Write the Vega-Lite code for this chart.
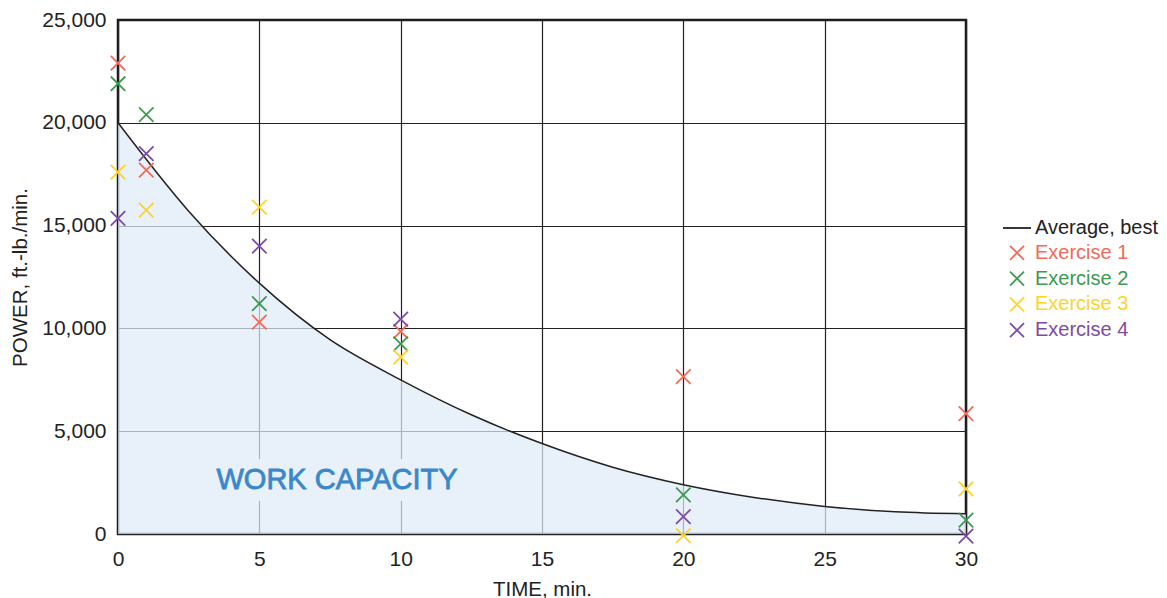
{
  "$schema": "https://vega.github.io/schema/vega-lite/v6.json",
  "width": 848,
  "height": 514,
  "autosize": {"type": "none"},
  "padding": {"left": 118, "top": 20, "right": 201, "bottom": 64},
  "background": "white",
  "datasets": {
    "curve": [
      {"t": 0, "p": 20000}, {"t": 2.5, "p": 15700}, {"t": 5, "p": 12200},
      {"t": 7.5, "p": 9450}, {"t": 10, "p": 7500}, {"t": 12.5, "p": 5800},
      {"t": 15, "p": 4400}, {"t": 17.5, "p": 3250}, {"t": 20, "p": 2400},
      {"t": 22.5, "p": 1780}, {"t": 25, "p": 1340}, {"t": 27.5, "p": 1080},
      {"t": 30, "p": 980}
    ],
    "points": [
      {"series": "Exercise 1", "t": 0, "p": 22900}, {"series": "Exercise 1", "t": 1, "p": 17700},
      {"series": "Exercise 1", "t": 5, "p": 10300}, {"series": "Exercise 1", "t": 10, "p": 9850},
      {"series": "Exercise 1", "t": 20, "p": 7650}, {"series": "Exercise 1", "t": 30, "p": 5850},
      {"series": "Exercise 2", "t": 0, "p": 21900}, {"series": "Exercise 2", "t": 1, "p": 20400},
      {"series": "Exercise 2", "t": 5, "p": 11200}, {"series": "Exercise 2", "t": 10, "p": 9250},
      {"series": "Exercise 2", "t": 20, "p": 1900}, {"series": "Exercise 2", "t": 30, "p": 680},
      {"series": "Exercise 3", "t": 0, "p": 17600}, {"series": "Exercise 3", "t": 1, "p": 15750},
      {"series": "Exercise 3", "t": 5, "p": 15900}, {"series": "Exercise 3", "t": 10, "p": 8600},
      {"series": "Exercise 3", "t": 20, "p": -80}, {"series": "Exercise 3", "t": 30, "p": 2200},
      {"series": "Exercise 4", "t": 0, "p": 15350}, {"series": "Exercise 4", "t": 1, "p": 18500},
      {"series": "Exercise 4", "t": 5, "p": 14000}, {"series": "Exercise 4", "t": 10, "p": 10450},
      {"series": "Exercise 4", "t": 20, "p": 850}, {"series": "Exercise 4", "t": 30, "p": -100}
    ],
    "label": [
      {"t": 7.75, "p": 2630, "t1": 3.3, "t2": 12.2, "p1": 1620, "p2": 3640, "text": "WORK CAPACITY"}
    ]
  },
  "config": {
    "view": {"stroke": "#1a1a1a", "strokeWidth": 2.5},
    "font": "Liberation Sans",
    "axis": {
      "domain": false, "ticks": false, "grid": true,
      "gridColor": "#222222", "gridWidth": 1.2, "gridOpacity": 1,
      "labelFont": "Liberation Sans", "labelFontSize": 21, "labelColor": "#222222",
      "titleFont": "Liberation Sans", "titleFontSize": 20.5, "titleFontWeight": "normal", "titleColor": "#222222"
    },
    "axisX": {"labelPadding": 14, "titlePadding": 10, "labelFlush": false},
    "axisY": {"labelPadding": 12, "titlePadding": 11}
  },
  "layer": [
    {
      "data": {"name": "curve"},
      "mark": {"type": "area", "interpolate": "monotone", "color": "#dfeaf7", "opacity": 0.72},
      "encoding": {
        "x": {"field": "t", "type": "quantitative", "title": "TIME, min.", "scale": {"domain": [0, 30], "nice": false},
              "axis": {"values": [0, 5, 10, 15, 20, 25, 30], "format": "d"}},
        "y": {"field": "p", "type": "quantitative", "title": "POWER, ft.-lb./min.", "scale": {"domain": [0, 25000], "nice": false},
              "axis": {"values": [0, 5000, 10000, 15000, 20000, 25000], "format": ",d"}}
      }
    },
    {
      "data": {"name": "label"},
      "mark": {"type": "rect", "color": "#e8f0f9"},
      "encoding": {
        "x": {"field": "t1", "type": "quantitative", "title": "TIME, min.",
              "axis": {"values": [0, 5, 10, 15, 20, 25, 30], "format": "d"}},
        "x2": {"field": "t2"},
        "y": {"field": "p1", "type": "quantitative", "title": "POWER, ft.-lb./min.",
              "axis": {"values": [0, 5000, 10000, 15000, 20000, 25000], "format": ",d"}},
        "y2": {"field": "p2"}
      }
    },
    {
      "data": {"name": "label"},
      "mark": {"type": "text", "font": "Liberation Sans", "fontSize": 29, "color": "#3a88c9", "stroke": "#3a88c9", "strokeWidth": 0.8, "align": "center", "baseline": "middle"},
      "encoding": {
        "x": {"field": "t", "type": "quantitative", "title": "TIME, min.",
              "axis": {"values": [0, 5, 10, 15, 20, 25, 30], "format": "d"}},
        "y": {"field": "p", "type": "quantitative", "title": "POWER, ft.-lb./min.",
              "axis": {"values": [0, 5000, 10000, 15000, 20000, 25000], "format": ",d"}},
        "text": {"field": "text"}
      }
    },
    {
      "data": {"name": "curve"},
      "mark": {"type": "line", "interpolate": "monotone", "color": "#222222", "strokeWidth": 1.5},
      "encoding": {
        "x": {"field": "t", "type": "quantitative", "title": "TIME, min.",
              "axis": {"values": [0, 5, 10, 15, 20, 25, 30], "format": "d"}},
        "y": {"field": "p", "type": "quantitative", "title": "POWER, ft.-lb./min.",
              "axis": {"values": [0, 5000, 10000, 15000, 20000, 25000], "format": ",d"}}
      }
    },
    {
      "data": {"name": "points"},
      "mark": {"type": "point", "filled": false, "strokeWidth": 1.8, "size": 210, "opacity": 1},
      "encoding": {
        "x": {"field": "t", "type": "quantitative", "title": "TIME, min.",
              "axis": {"values": [0, 5, 10, 15, 20, 25, 30], "format": "d"}},
        "y": {"field": "p", "type": "quantitative", "title": "POWER, ft.-lb./min.",
              "axis": {"values": [0, 5000, 10000, 15000, 20000, 25000], "format": ",d"}},
        "color": {
          "field": "series", "type": "nominal",
          "scale": {
            "domain": ["Average, best", "Exercise 1", "Exercise 2", "Exercise 3", "Exercise 4"],
            "range": ["#222222", "#f26a5a", "#3e9a50", "#fdd32a", "#7d4ca3"]
          },
          "legend": {
            "orient": "none", "legendX": 889, "legendY": 198, "title": null,
            "labelFont": "Liberation Sans", "labelFontSize": 20, "symbolSize": 196,
            "symbolStrokeWidth": 1.8, "labelOffset": 8, "rowPadding": 3.8, "padding": 0,
            "labelColor": {"expr": "scale('color', datum.value)"}
          }
        },
        "shape": {
          "field": "series", "type": "nominal",
          "scale": {
            "domain": ["Average, best", "Exercise 1", "Exercise 2", "Exercise 3", "Exercise 4"],
            "range": ["M-2,0L2,0", "M-1,-1L1,1M1,-1L-1,1", "M-1,-1L1,1M1,-1L-1,1", "M-1,-1L1,1M1,-1L-1,1", "M-1,-1L1,1M1,-1L-1,1"]
          },
          "legend": {
            "orient": "none", "legendX": 889, "legendY": 198, "title": null,
            "labelFont": "Liberation Sans", "labelFontSize": 20, "symbolSize": 196,
            "symbolStrokeWidth": 1.8, "labelOffset": 8, "rowPadding": 3.8, "padding": 0,
            "labelColor": {"expr": "scale('color', datum.value)"}
          }
        }
      }
    }
  ]
}
